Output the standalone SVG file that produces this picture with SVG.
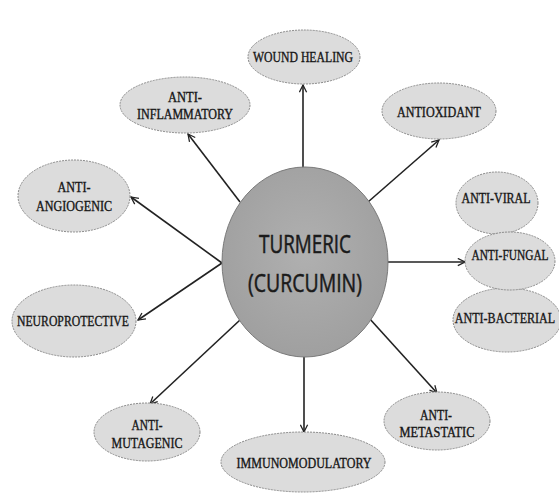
<svg xmlns="http://www.w3.org/2000/svg" width="559" height="493" viewBox="0 0 559 493">
<defs>
<radialGradient id="cg" cx="50%" cy="45%" r="60%">
<stop offset="0" stop-color="#b0b0b0"/>
<stop offset="1" stop-color="#9e9e9e"/>
</radialGradient>
<marker id="ah" viewBox="0 0 10 10" refX="9" refY="5" markerWidth="9" markerHeight="9" markerUnits="userSpaceOnUse" orient="auto">
<path d="M1,1 L9,5 L1,9" fill="none" stroke="#222" stroke-width="1.4"/>
</marker>
</defs>
<style>
.n ellipse{fill:#dcdcdc;stroke:#8a8a8a;stroke-width:1;stroke-dasharray:2 1}
.n text{font-family:"Liberation Serif","Times New Roman",serif;font-size:14px;fill:#151515;text-anchor:middle;stroke:#151515;stroke-width:0.35}
.c line{stroke:#222;stroke-width:1.6;marker-end:url(#ah)}
.t{font-family:"Open Sans","Noto Sans",sans-serif;font-size:25px;fill:#1a1a1a;stroke:#1a1a1a;stroke-width:0.5;text-anchor:middle}
</style>
<rect width="559" height="493" fill="#ffffff"/>
<g class="c" id="connectors">
<line x1="303" y1="168" x2="303" y2="85"/>
<line x1="368" y1="202" x2="439" y2="140"/>
<line x1="240" y1="202" x2="188" y2="134"/>
<line x1="222" y1="263" x2="131" y2="197"/>
<line x1="222" y1="263" x2="138" y2="320"/>
<line x1="240" y1="320" x2="150" y2="404"/>
<line x1="304" y1="357" x2="304" y2="432"/>
<line x1="369" y1="318" x2="437" y2="393"/>
<line x1="387" y1="262" x2="465" y2="262"/>
</g>
<g id="center">
<ellipse cx="305" cy="262" rx="83" ry="95" fill="url(#cg)" stroke="#7a7a7a" stroke-width="1"/>
<text class="t" x="305" y="253" textLength="92" lengthAdjust="spacingAndGlyphs">TURMERIC</text>
<text class="t" x="305" y="292" textLength="114" lengthAdjust="spacingAndGlyphs">(CURCUMIN)</text>
</g>
<g class="n" id="wound-healing"><ellipse cx="304" cy="57" rx="56" ry="27"/><text x="303" y="62" textLength="100" lengthAdjust="spacingAndGlyphs">WOUND HEALING</text></g>
<g class="n" id="anti-inflammatory"><ellipse cx="185" cy="105" rx="65" ry="28"/><text x="185" y="102" textLength="34" lengthAdjust="spacingAndGlyphs">ANTI-</text><text x="185" y="119" textLength="96" lengthAdjust="spacingAndGlyphs">INFLAMMATORY</text></g>
<g class="n" id="antioxidant"><ellipse cx="439" cy="111" rx="57" ry="28"/><text x="439" y="117" textLength="84" lengthAdjust="spacingAndGlyphs">ANTIOXIDANT</text></g>
<g class="n" id="anti-angiogenic"><ellipse cx="74" cy="196" rx="56" ry="36"/><text x="74" y="192" textLength="33" lengthAdjust="spacingAndGlyphs">ANTI-</text><text x="74" y="211" textLength="76" lengthAdjust="spacingAndGlyphs">ANGIOGENIC</text></g>
<g class="n" id="anti-viral"><ellipse cx="497" cy="203" rx="41" ry="31"/><text x="496" y="203" textLength="69" lengthAdjust="spacingAndGlyphs">ANTI-VIRAL</text></g>
<g class="n" id="anti-bacterial"><ellipse cx="507" cy="320" rx="54" ry="32"/><text transform="translate(505,323) scale(0.86,1)" x="0" y="0">ANTI-BACTERIAL</text></g>
<g class="n" id="anti-fungal"><ellipse cx="510" cy="261" rx="45" ry="29"/><text transform="translate(510,260) scale(0.814,1)" x="0" y="0">ANTI-FUNGAL</text></g>
<g class="n" id="neuroprotective"><ellipse cx="74" cy="321" rx="62" ry="36"/><text x="73" y="326" textLength="112" lengthAdjust="spacingAndGlyphs">NEUROPROTECTIVE</text></g>
<g class="n" id="anti-mutagenic"><ellipse cx="147" cy="432" rx="53" ry="29"/><text x="147" y="430" textLength="31" lengthAdjust="spacingAndGlyphs">ANTI-</text><text x="147" y="448" textLength="71" lengthAdjust="spacingAndGlyphs">MUTAGENIC</text></g>
<g class="n" id="immunomodulatory"><ellipse cx="303" cy="462" rx="82" ry="30"/><text x="304" y="468" textLength="135" lengthAdjust="spacingAndGlyphs">IMMUNOMODULATORY</text></g>
<g class="n" id="anti-metastatic"><ellipse cx="437" cy="421" rx="53" ry="29"/><text x="436" y="420" textLength="32" lengthAdjust="spacingAndGlyphs">ANTI-</text><text x="437" y="437" textLength="75" lengthAdjust="spacingAndGlyphs">METASTATIC</text></g>
</svg>
